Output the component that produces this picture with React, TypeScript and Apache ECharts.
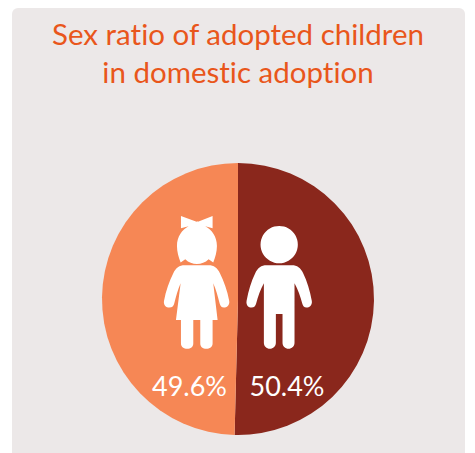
import React, { useEffect, useRef } from "react";
import * as echarts from "echarts";

const categories = ["Boys", "Girls"];
const shares = [50.4, 49.6];
const sliceColors = ["#8A271C", "#F68755"];
const titleLines = ["Sex ratio of adopted children", "in domestic adoption"];

const girlPath =
  "M123 48 L170 65 Q172 62 174 65 L218 48 L218 85 L196 79 C216 90 231 110 231 138 C231 155 226 172 220 188 L206 178 C196 188 184 192 171 192 C158 192 146 188 136 178 L122 188 C116 172 111 155 111 138 C111 110 126 90 146 79 L123 85 Z " +
  "M134 196 L206 196 C222 196 232 204 240 220 C252 244 262 272 268 303 C270 316 260 323 252 323 C245 323 241 318 239 310 C234 290 228 268 220 250 L233 360 L218 360 L218 431 C218 441 209 447 199 447 C189 447 181 441 181 431 L181 360 L160 360 L160 431 C160 441 152 447 142 447 C132 447 123 441 123 431 L123 360 L108 360 L122 250 C114 268 108 290 103 310 C101 318 97 323 88 323 C79 323 70 316 72 303 C78 272 88 244 100 220 C108 204 118 196 134 196 Z";

const boyPath =
  "M418 78 A56 56 0 1 1 417.9 78 Z " +
  "M380 196 L456 196 C472 196 482 204 490 220 C502 244 510 272 516 303 C518 316 508 323 500 323 C493 323 489 318 487 310 C482 290 474 268 464 250 L464 429 C464 440 456 447 446 447 C436 447 428 440 428 429 L428 342 L408 342 L408 429 C408 440 400 447 390 447 C380 447 372 440 372 429 L372 250 C362 268 354 290 349 310 C347 318 343 323 335 323 C326 323 318 316 320 303 C326 272 334 244 346 220 C354 204 364 196 380 196 Z";

echarts.graphic.registerShape("girlIcon", echarts.graphic.extendPath(girlPath, {}));
echarts.graphic.registerShape("boyIcon", echarts.graphic.extendPath(boyPath, {}));

export default function App() {
  const ref = useRef<HTMLDivElement>(null);
  useEffect(() => {
    document.body.style.margin = "0";
    const chart = echarts.init(ref.current!, null, { renderer: "svg" });
    chart.setOption({
      animation: false,
      backgroundColor: "#FFFFFF",
      graphic: [
        {
          type: "rect",
          z: -1,
          shape: { x: 12, y: 8, width: 453, height: 452, r: 6 },
          style: { fill: "#ECE8E8" },
        },
        {
          type: "text",
          x: 238,
          y: 14,
          z: 5,
          style: {
            text: titleLines.join("\n"),
            align: "center",
            fontFamily: "Lato",
            fontSize: 29.5,
            lineHeight: 38,
            fill: "#E9561B",
          },
        },
        {
          type: "girlIcon",
          x: 140,
          y: 200,
          scaleX: 1 / 3,
          scaleY: 1 / 3,
          z: 10,
          style: { fill: "#FFFFFF" },
        },
        {
          type: "boyIcon",
          x: 140,
          y: 200,
          scaleX: 1 / 3,
          scaleY: 1 / 3,
          z: 10,
          style: { fill: "#FFFFFF" },
        },
      ],
      series: [
        {
          type: "pie",
          center: [238, 299],
          radius: [0, 136],
          startAngle: 90,
          clockwise: true,
          silent: true,
          data: categories.map((name, i) => ({
            name,
            value: shares[i],
            itemStyle: { color: sliceColors[i] },
          })),
          label: {
            show: true,
            position: "inside",
            formatter: (p: any) => `${p.value}%`,
            color: "#FFFFFF",
            fontFamily: "Lato",
            fontSize: 27,
          },
          labelLine: { show: false },
          labelLayout: (p: any) => ({
            x: p.dataIndex === 0 ? 287 : 189.5,
            y: 385,
            align: "center",
            verticalAlign: "middle",
          }),
        },
      ],
    });
    return () => chart.dispose();
  }, []);
  return <div ref={ref} style={{ width: 475, height: 453, fontVariantLigatures: "none" }} />;
}
